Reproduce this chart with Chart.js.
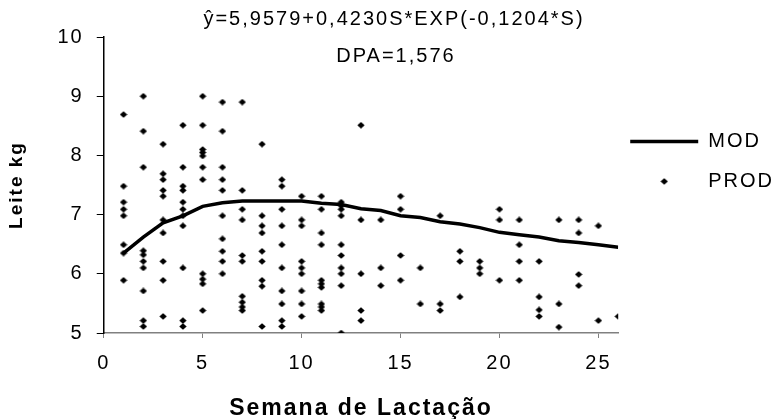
<!DOCTYPE html>
<html>
<head>
<meta charset="utf-8">
<script src="https://cdn.jsdelivr.net/npm/chart.js@4.4.1/dist/chart.umd.min.js"></script>
<style>
  html, body { margin: 0; padding: 0; background: #fff; }
  #wrap { width: 774px; height: 419px; }
</style>
</head>
<body>
<div id="wrap"><canvas id="c" width="774" height="419"></canvas></div>
<script>
// Semanas de lactação (eixo x)
const semanas = [1, 2, 3, 4, 5, 6, 7, 8, 9, 10, 11, 12, 13, 14, 15, 16, 17, 18, 19, 20, 21, 22, 23, 24, 25, 26];

// curva do modelo (MOD)
const mod = [6.35, 6.62, 6.86, 6.98, 7.14, 7.20, 7.23, 7.23, 7.23, 7.23, 7.19, 7.17, 7.10, 7.07, 6.98,
  6.95, 6.88, 6.84, 6.78, 6.70, 6.66, 6.62, 6.56, 6.53, 6.49, 6.45];

// produção observada (PROD), uma lista por semana
const prod = [
  [8.69, 7.48, 7.21, 7.09, 6.98, 6.49, 6.35, 5.89],
  [9.00, 8.41, 7.80, 6.39, 6.32, 6.21, 6.10, 5.71, 5.21, 5.11],
  [8.19, 7.69, 7.59, 7.41, 7.31, 6.91, 6.69, 6.21, 5.89, 5.28],
  [8.51, 7.80, 7.48, 7.41, 7.21, 7.09, 6.98, 6.81, 6.10, 5.21, 5.11],
  [9.00, 8.51, 8.10, 8.05, 7.99, 7.80, 7.59, 6.00, 5.91, 5.83, 5.38],
  [8.90, 8.41, 7.80, 7.59, 7.41, 6.98, 6.59, 6.38, 6.21, 6.00],
  [8.90, 7.41, 7.09, 6.91, 6.31, 6.21, 5.62, 5.52, 5.44, 5.38],
  [8.19, 6.98, 6.81, 6.69, 6.38, 6.21, 5.89, 5.79, 5.11],
  [7.59, 7.48, 7.09, 6.81, 6.49, 6.10, 5.71, 5.49, 5.21, 5.11],
  [7.31, 6.91, 6.81, 6.21, 6.10, 6.00, 5.71, 5.49, 5.28],
  [7.31, 7.09, 6.69, 6.49, 5.89, 5.83, 5.77, 5.49, 5.44, 5.38],
  [7.21, 7.15, 7.09, 6.98, 6.49, 6.31, 6.10, 6.00, 5.80, 5.00],
  [8.51, 6.91, 6.00, 5.38, 5.21],
  [6.91, 6.10, 5.80],
  [7.31, 7.09, 6.31, 5.89],
  [6.10, 5.49],
  [6.98, 5.49, 5.38],
  [6.38, 6.21, 5.61],
  [6.21, 6.10, 6.00],
  [7.09, 6.91, 5.89],
  [6.91, 6.49, 6.21, 5.89],
  [6.21, 5.61, 5.39, 5.28],
  [6.91, 5.49, 5.10],
  [6.91, 6.69, 5.99, 5.80],
  [6.81, 5.21],
  [5.28]
];

const xTicks = [0, 5, 10, 15, 20, 25];
const anotacoes = ['\u0177=5,9579+0,4230S*EXP(-0,1204*S)', 'DPA=1,576'];

const FONT = "'Liberation Sans', Arial, sans-serif";

const modPts = semanas.map((s, i) => ({x: s, y: mod[i]}));
const prodPts = [];
prod.forEach((vals, i) => vals.forEach(v => prodPts.push({x: semanas[i], y: v})));

// losango (marcador de PROD), um pouco mais largo que alto
const losango = document.createElement('canvas');
losango.width = 8; losango.height = 7;
(function () {
  const g = losango.getContext('2d');
  g.fillStyle = '#000';
  g.beginPath();
  g.moveTo(4, 0.3); g.lineTo(7.7, 3.5); g.lineTo(4, 6.7); g.lineTo(0.3, 3.5);
  g.closePath();
  g.fill();
})();

// texto um pouco espaçado, como no original
const espacamento = {
  id: 'espacamento',
  beforeUpdate(chart) { chart.ctx.letterSpacing = '2px'; },
  afterLayout(chart) { chart.legend.left -= 8; }
};

// texto da equação e DPA
const textoPlugin = {
  id: 'texto',
  afterDraw(chart) {
    const {ctx, chartArea} = chart;
    const cx = chartArea.left + (chartArea.right - chartArea.left) * 0.535;
    ctx.save();
    ctx.fillStyle = '#000';
    ctx.font = '20px ' + FONT;
    ctx.textAlign = 'center';
    ctx.textBaseline = 'middle';
    ctx.fillText(anotacoes[0], cx + 15, chartArea.top - 18);
    ctx.fillText(anotacoes[1], cx + 17, chartArea.top + 19);
    ctx.restore();
  }
};

new Chart(document.getElementById('c'), {
  type: 'scatter',
  data: {
    datasets: [
      {
        label: 'MOD',
        data: modPts,
        showLine: true,
        borderColor: '#000',
        borderWidth: 3.5,
        pointRadius: 0,
        pointStyle: 'line',
        pointBorderColor: '#000',
        pointBorderWidth: 3.5,
        tension: 0
      },
      {
        label: 'PROD',
        data: prodPts,
        pointStyle: losango,
        pointRadius: 4,
        backgroundColor: '#000',
        borderColor: '#000'
      }
    ]
  },
  options: {
    responsive: false,
    animation: false,
    events: [],
    layout: { padding: { top: 37, left: 5, right: -18, bottom: -1 } },
    plugins: {
      tooltip: { enabled: false },
      legend: {
        position: 'right',
        align: 'start',
        title: { display: true, text: '', padding: { top: 0, bottom: 60 } },
        labels: {
          usePointStyle: true,
          pointStyleWidth: 68,
          boxHeight: 4,
          padding: 20,
          color: '#000',
          font: { family: FONT, size: 20 }
        }
      }
    },
    scales: {
      x: {
        type: 'linear',
        min: 0,
        max: 26,
        border: { color: '#808080', width: 1.5 },
        grid: { drawOnChartArea: false, color: '#808080', tickLength: 5 },
        ticks: {
          stepSize: 5,
          includeBounds: false,
          padding: 13,
          color: '#000',
          font: { family: FONT, size: 20 },
          callback: v => xTicks.includes(v) ? String(v) : null
        },
        title: {
          display: true,
          text: 'Semana de Lactação',
          color: '#000',
          font: { family: FONT, size: 23, weight: 'bold', lineHeight: 1 },
          padding: { top: 9, bottom: 0 }
        }
      },
      y: {
        min: 5,
        max: 10,
        border: { color: '#000', width: 1.5 },
        grid: { drawOnChartArea: false, color: '#000', tickLength: 7 },
        ticks: {
          stepSize: 1,
          padding: 13,
          color: '#000',
          font: { family: FONT, size: 20 }
        },
        title: {
          display: true,
          text: 'Leite kg',
          color: '#000',
          font: { family: FONT, size: 19, weight: 'bold' },
          padding: { top: 0, bottom: 16.7 }
        }
      }
    }
  },
  plugins: [espacamento, textoPlugin]
});
</script>
</body>
</html>
